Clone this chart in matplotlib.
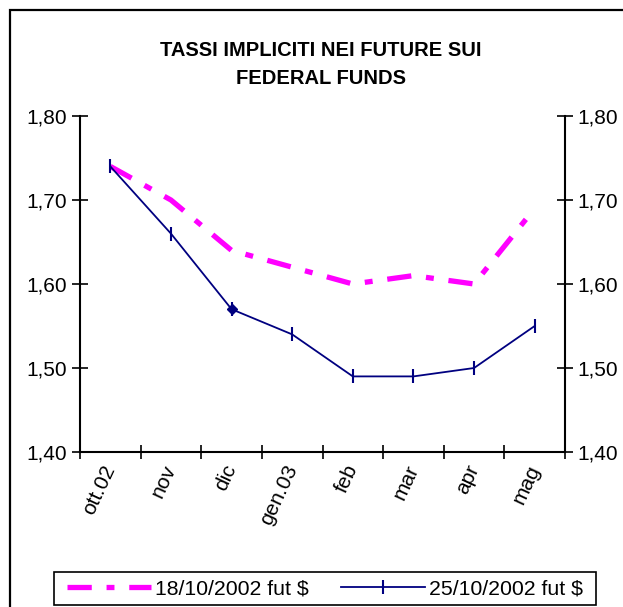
import matplotlib
matplotlib.use("Agg")
import matplotlib.pyplot as plt
from matplotlib.patches import Rectangle

# Data
MONTHS = ["ott.02", "nov", "dic", "gen.03", "feb", "mar", "apr", "mag"]
FUT_18_10 = [1.74, 1.70, 1.64, 1.62, 1.60, 1.61, 1.60, 1.69]
FUT_25_10 = [1.74, 1.66, 1.57, 1.54, 1.49, 1.49, 1.50, 1.55]
Y_TICKS = [1.40, 1.50, 1.60, 1.70, 1.80]
LABELS = ["18/10/2002 fut $", "25/10/2002 fut $"]

plt.rcParams["font.family"] = ["Liberation Sans", "DejaVu Sans"]

fig = plt.figure(figsize=(6.23, 6.07), dpi=100)
ax = fig.add_axes([80 / 623, 1 - 452 / 607, 485 / 623, 336 / 607])

x = list(range(len(MONTHS)))
ax.plot(x, FUT_18_10, color="#FF00FF", linewidth=3.8,
        dashes=(4.6, 2.8, 1.5, 2.8), solid_capstyle="butt",
        dash_capstyle="butt", label=LABELS[0])
ax.plot(x, FUT_25_10, color="#000080", linewidth=1.3, marker="|",
        markersize=10, markeredgewidth=1.5, label=LABELS[1])
# selected point shown as a diamond in the original
ax.plot(x[2], FUT_25_10[2], color="#000080", marker="D", markersize=5.5,
        linestyle="none")

ax.set_xlim(-0.5, len(MONTHS) - 0.5)
ax.set_ylim(1.40, 1.80)

ax.set_yticks(Y_TICKS)
ax.set_yticklabels([f"{v:.2f}".replace(".", ",") for v in Y_TICKS], fontsize=15)
ax.tick_params(axis="y", which="both", direction="inout", length=12, width=1.2,
               left=True, right=True, labelleft=True, labelright=True, pad=3)

ax.set_xticks([i - 0.5 for i in range(len(MONTHS) + 1)])
ax.set_xticklabels([])
ax.set_xticks(x, minor=True)
ax.set_xticklabels(MONTHS, minor=True, fontsize=15, rotation=65,
                   ha="right", va="center", rotation_mode="anchor")
ax.tick_params(axis="x", which="major", direction="inout", length=10, width=1.2)
ax.tick_params(axis="x", which="minor", length=0, pad=10)

ax.spines["top"].set_visible(False)
for s in ["left", "right", "bottom"]:
    ax.spines[s].set_linewidth(1.5)

fig.text(321 / 623, 1 - 50 / 607, "TASSI IMPLICITI NEI FUTURE SUI",
         ha="center", va="center", fontsize=14.5, fontweight="bold")
fig.text(321 / 623, 1 - 78 / 607, "FEDERAL FUNDS",
         ha="center", va="center", fontsize=14.5, fontweight="bold")

# outer chart frame, cut at right and bottom
fig.patches.append(Rectangle((10 / 623, -0.1), 1.0, 1.1 - 10 / 607,
                             transform=fig.transFigure, fill=False,
                             edgecolor="black", linewidth=1.6))

# legend box drawn separately to get the wide side padding
fig.patches.append(Rectangle((54 / 623, 1 - 605 / 607), 542 / 623, 33 / 607,
                             transform=fig.transFigure, fill=False,
                             edgecolor="black", linewidth=1.2))
leg = fig.legend(handles=ax.get_lines()[:2], labels=LABELS, loc="center",
                 bbox_to_anchor=(325 / 623, 1 - 589 / 607), ncol=2,
                 fontsize=15.3, frameon=False,
                 handlelength=3.95, columnspacing=1.5, handletextpad=0.2,
                 borderpad=0.2, borderaxespad=0)

fig.savefig("out.png", dpi=100)
